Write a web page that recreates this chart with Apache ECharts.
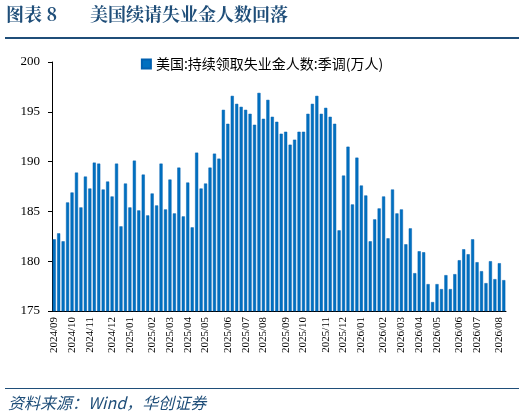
<!DOCTYPE html>
<html><head><meta charset="utf-8">
<script src="https://cdn.jsdelivr.net/npm/echarts@6/dist/echarts.min.js"></script>
<style>body{margin:0;background:#fff}#c{width:524px;height:418px}</style>
</head><body><div id="c"></div>
<script>
const seriesName = '美国:持续领取失业金人数:季调(万人)';
const values = [182.2,182.8,182.0,185.9,186.9,188.9,185.4,188.5,187.3,189.9,189.8,187.2,188.0,186.5,189.8,183.5,187.8,185.4,190.1,185.1,188.7,184.6,186.8,185.6,189.8,185.2,188.2,184.8,189.4,184.5,187.9,183.4,190.9,187.3,187.8,189.4,190.8,190.3,195.2,193.8,196.6,195.8,195.5,195.2,194.8,193.7,196.9,194.3,196.2,194.5,194.0,192.8,193.0,191.7,192.2,193.0,193.0,194.8,195.8,196.6,194.8,195.4,194.5,193.8,183.1,188.6,191.5,185.7,190.4,187.6,186.6,182.0,184.2,185.3,186.5,182.3,187.2,184.8,185.2,181.7,183.3,178.8,181.0,180.9,177.7,175.9,177.7,177.2,178.6,177.2,178.7,180.1,181.2,180.7,182.2,179.9,179.0,177.8,180.0,178.2,179.8,178.1];
const startDate = '2024-09-06';
const yTicks = [175,180,185,190,195,200];
const categories = [];
{const d0 = new Date(startDate + 'T00:00:00Z');
 for (let i=0;i<values.length;i++){const d=new Date(d0.getTime()+i*7*86400000);
  categories.push(d.getUTCFullYear()+'/'+String(d.getUTCMonth()+1).padStart(2,'0'));}}
const showIdx = i => i===0 || categories[i]!==categories[i-1];
const chart = echarts.init(document.getElementById('c'));
chart.setOption({
  animation:false,
  graphic:[
    {type:'text',left:6,top:5,style:{text:'图表 8',font:'bold 18px "Noto Serif CJK SC","Noto Sans CJK SC",serif',fill:'#1F4E79'}},
    {type:'text',left:90,top:5,style:{text:'美国续请失业金人数回落',font:'bold 18px "Noto Serif CJK SC","Noto Sans CJK SC",serif',fill:'#1F4E79'}},
    {type:'rect',shape:{x:5,y:37,width:514,height:2},style:{fill:'#1F4E79'}},
    {type:'rect',shape:{x:5,y:388,width:514,height:1},style:{fill:'#1F4E79'}},
    {type:'text',left:8,top:395,style:{text:'资料来源：Wind，华创证券',font:'italic 16px "Noto Sans CJK SC",serif',fill:'#1F4E79'}}
  ],
  legend:{top:52,left:'center',itemWidth:9,itemHeight:9,icon:'rect',itemGap:4,
    textStyle:{fontSize:14,color:'#000',fontFamily:'"Noto Sans CJK SC",sans-serif'}},
  grid:{left:52,right:18,top:62,bottom:107},
  xAxis:{type:'category',data:categories,boundaryGap:true,
    axisLine:{lineStyle:{color:'#000'}},
    axisTick:{interval:showIdx,length:4,lineStyle:{color:'#000'}},
    axisLabel:{interval:showIdx,rotate:90,fontSize:11,color:'#000',fontFamily:'"Liberation Serif",serif',margin:6}},
  yAxis:{type:'value',min:175,max:200,interval:5,
    axisLine:{show:true,lineStyle:{color:'#000'}},
    axisTick:{show:true,inside:false,length:4,lineStyle:{color:'#000'}},
    splitLine:{show:false},
    axisLabel:{fontSize:13,color:'#000',fontFamily:'"Liberation Serif",serif',margin:12,
      formatter:v=>yTicks.includes(v)?String(v):''}},
  series:[{name:seriesName,type:'bar',data:values,barWidth:'70%',
    itemStyle:{color:'#0070C0',borderColor:'#0060B0',borderWidth:0.5}}]
});
</script></body></html>
